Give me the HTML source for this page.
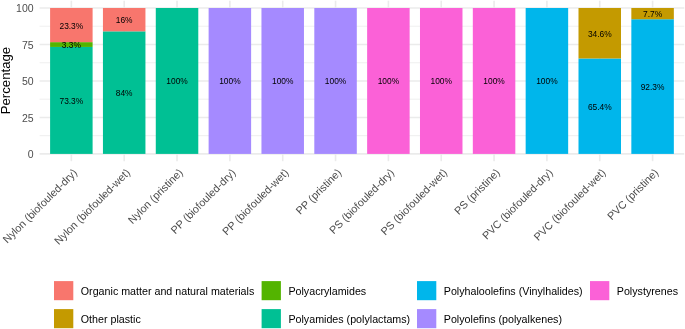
<!DOCTYPE html><html><head><meta charset="utf-8"><style>html,body{margin:0;padding:0;background:#fff;}svg{display:block;will-change:transform;}text{font-family:"Liberation Sans",sans-serif;}</style></head><body>
<svg width="685" height="329" viewBox="0 0 685 329">
<rect x="0" y="0" width="685" height="329" fill="#fff"/>
<line x1="39.6" x2="684.25" y1="135.66" y2="135.66" stroke="#EBEBEB" stroke-width="0.8"/>
<line x1="39.6" x2="684.25" y1="99.19" y2="99.19" stroke="#EBEBEB" stroke-width="0.8"/>
<line x1="39.6" x2="684.25" y1="62.71" y2="62.71" stroke="#EBEBEB" stroke-width="0.8"/>
<line x1="39.6" x2="684.25" y1="26.24" y2="26.24" stroke="#EBEBEB" stroke-width="0.8"/>
<line x1="39.6" x2="684.25" y1="153.90" y2="153.90" stroke="#EBEBEB" stroke-width="1.6"/>
<line x1="39.6" x2="684.25" y1="117.43" y2="117.43" stroke="#EBEBEB" stroke-width="1.6"/>
<line x1="39.6" x2="684.25" y1="80.95" y2="80.95" stroke="#EBEBEB" stroke-width="1.6"/>
<line x1="39.6" x2="684.25" y1="44.47" y2="44.47" stroke="#EBEBEB" stroke-width="1.6"/>
<line x1="39.6" x2="684.25" y1="8.00" y2="8.00" stroke="#EBEBEB" stroke-width="1.6"/>
<line x1="71.35" x2="71.35" y1="0.7" y2="161.2" stroke="#EBEBEB" stroke-width="1.6"/>
<line x1="124.19" x2="124.19" y1="0.7" y2="161.2" stroke="#EBEBEB" stroke-width="1.6"/>
<line x1="177.03" x2="177.03" y1="0.7" y2="161.2" stroke="#EBEBEB" stroke-width="1.6"/>
<line x1="229.87" x2="229.87" y1="0.7" y2="161.2" stroke="#EBEBEB" stroke-width="1.6"/>
<line x1="282.71" x2="282.71" y1="0.7" y2="161.2" stroke="#EBEBEB" stroke-width="1.6"/>
<line x1="335.55" x2="335.55" y1="0.7" y2="161.2" stroke="#EBEBEB" stroke-width="1.6"/>
<line x1="388.39" x2="388.39" y1="0.7" y2="161.2" stroke="#EBEBEB" stroke-width="1.6"/>
<line x1="441.23" x2="441.23" y1="0.7" y2="161.2" stroke="#EBEBEB" stroke-width="1.6"/>
<line x1="494.07" x2="494.07" y1="0.7" y2="161.2" stroke="#EBEBEB" stroke-width="1.6"/>
<line x1="546.91" x2="546.91" y1="0.7" y2="161.2" stroke="#EBEBEB" stroke-width="1.6"/>
<line x1="599.75" x2="599.75" y1="0.7" y2="161.2" stroke="#EBEBEB" stroke-width="1.6"/>
<line x1="652.59" x2="652.59" y1="0.7" y2="161.2" stroke="#EBEBEB" stroke-width="1.6"/>
<rect x="50.10" y="46.96" width="42.5" height="106.94" fill="#00C094"/>
<rect x="50.10" y="42.14" width="42.5" height="4.81" fill="#53B400"/>
<rect x="50.10" y="8.00" width="42.5" height="34.14" fill="#F8766D"/>
<text x="71.35" y="103.87" font-size="8.4" fill="#000" text-anchor="middle">73.3%</text>
<text x="71.35" y="47.99" font-size="8.4" fill="#000" text-anchor="middle">3.3%</text>
<text x="71.35" y="28.51" font-size="8.4" fill="#000" text-anchor="middle">23.3%</text>
<rect x="102.94" y="31.34" width="42.5" height="122.56" fill="#00C094"/>
<rect x="102.94" y="8.00" width="42.5" height="23.34" fill="#F8766D"/>
<text x="124.19" y="96.06" font-size="8.4" fill="#000" text-anchor="middle">84%</text>
<text x="124.19" y="23.11" font-size="8.4" fill="#000" text-anchor="middle">16%</text>
<rect x="155.78" y="8.00" width="42.5" height="145.90" fill="#00C094"/>
<text x="177.03" y="84.39" font-size="8.4" fill="#000" text-anchor="middle">100%</text>
<rect x="208.62" y="8.00" width="42.5" height="145.90" fill="#A58AFF"/>
<text x="229.87" y="84.39" font-size="8.4" fill="#000" text-anchor="middle">100%</text>
<rect x="261.46" y="8.00" width="42.5" height="145.90" fill="#A58AFF"/>
<text x="282.71" y="84.39" font-size="8.4" fill="#000" text-anchor="middle">100%</text>
<rect x="314.30" y="8.00" width="42.5" height="145.90" fill="#A58AFF"/>
<text x="335.55" y="84.39" font-size="8.4" fill="#000" text-anchor="middle">100%</text>
<rect x="367.14" y="8.00" width="42.5" height="145.90" fill="#FB61D7"/>
<text x="388.39" y="84.39" font-size="8.4" fill="#000" text-anchor="middle">100%</text>
<rect x="419.98" y="8.00" width="42.5" height="145.90" fill="#FB61D7"/>
<text x="441.23" y="84.39" font-size="8.4" fill="#000" text-anchor="middle">100%</text>
<rect x="472.82" y="8.00" width="42.5" height="145.90" fill="#FB61D7"/>
<text x="494.07" y="84.39" font-size="8.4" fill="#000" text-anchor="middle">100%</text>
<rect x="525.66" y="8.00" width="42.5" height="145.90" fill="#00B6EB"/>
<text x="546.91" y="84.39" font-size="8.4" fill="#000" text-anchor="middle">100%</text>
<rect x="578.50" y="58.48" width="42.5" height="95.42" fill="#00B6EB"/>
<rect x="578.50" y="8.00" width="42.5" height="50.48" fill="#C49A00"/>
<text x="599.75" y="109.63" font-size="8.4" fill="#000" text-anchor="middle">65.4%</text>
<text x="599.75" y="36.68" font-size="8.4" fill="#000" text-anchor="middle">34.6%</text>
<rect x="631.34" y="19.23" width="42.5" height="134.67" fill="#00B6EB"/>
<rect x="631.34" y="8.00" width="42.5" height="11.23" fill="#C49A00"/>
<text x="652.59" y="90.01" font-size="8.4" fill="#000" text-anchor="middle">92.3%</text>
<text x="652.59" y="17.06" font-size="8.4" fill="#000" text-anchor="middle">7.7%</text>
<text x="33.6" y="158.20" font-size="10.5" fill="#4D4D4D" text-anchor="end">0</text>
<text x="33.6" y="121.73" font-size="10.5" fill="#4D4D4D" text-anchor="end">25</text>
<text x="33.6" y="85.26" font-size="10.5" fill="#4D4D4D" text-anchor="end">50</text>
<text x="33.6" y="48.78" font-size="10.5" fill="#4D4D4D" text-anchor="end">75</text>
<text x="33.6" y="12.30" font-size="10.5" fill="#4D4D4D" text-anchor="end">100</text>
<text transform="translate(10.3,80.6) rotate(-90)" font-size="13.2" fill="#000" text-anchor="middle">Percentage</text>
<text transform="translate(72.20,167.65) rotate(-45)" font-size="10.75" fill="#4D4D4D" text-anchor="end" dominant-baseline="hanging">Nylon (biofouled-dry)</text>
<text transform="translate(125.04,167.65) rotate(-45)" font-size="10.75" fill="#4D4D4D" text-anchor="end" dominant-baseline="hanging">Nylon (biofouled-wet)</text>
<text transform="translate(177.88,167.65) rotate(-45)" font-size="10.75" fill="#4D4D4D" text-anchor="end" dominant-baseline="hanging">Nylon (pristine)</text>
<text transform="translate(230.72,167.65) rotate(-45)" font-size="10.75" fill="#4D4D4D" text-anchor="end" dominant-baseline="hanging">PP (biofouled-dry)</text>
<text transform="translate(283.56,167.65) rotate(-45)" font-size="10.75" fill="#4D4D4D" text-anchor="end" dominant-baseline="hanging">PP (biofouled-wet)</text>
<text transform="translate(336.40,167.65) rotate(-45)" font-size="10.75" fill="#4D4D4D" text-anchor="end" dominant-baseline="hanging">PP (pristine)</text>
<text transform="translate(389.24,167.65) rotate(-45)" font-size="10.75" fill="#4D4D4D" text-anchor="end" dominant-baseline="hanging">PS (biofouled-dry)</text>
<text transform="translate(442.08,167.65) rotate(-45)" font-size="10.75" fill="#4D4D4D" text-anchor="end" dominant-baseline="hanging">PS (biofouled-wet)</text>
<text transform="translate(494.92,167.65) rotate(-45)" font-size="10.75" fill="#4D4D4D" text-anchor="end" dominant-baseline="hanging">PS (pristine)</text>
<text transform="translate(547.76,167.65) rotate(-45)" font-size="10.75" fill="#4D4D4D" text-anchor="end" dominant-baseline="hanging">PVC (biofouled-dry)</text>
<text transform="translate(600.60,167.65) rotate(-45)" font-size="10.75" fill="#4D4D4D" text-anchor="end" dominant-baseline="hanging">PVC (biofouled-wet)</text>
<text transform="translate(653.44,167.65) rotate(-45)" font-size="10.75" fill="#4D4D4D" text-anchor="end" dominant-baseline="hanging">PVC (pristine)</text>
<rect x="54.0" y="281.1" width="19.3" height="19.1" fill="#F8766D"/>
<text x="80.80" y="294.80" font-size="10.7" fill="#000">Organic matter and natural materials</text>
<rect x="54.0" y="309.1" width="19.3" height="19.1" fill="#C49A00"/>
<text x="80.80" y="322.80" font-size="10.7" fill="#000">Other plastic</text>
<rect x="261.6" y="281.1" width="19.3" height="19.1" fill="#53B400"/>
<text x="288.40" y="294.80" font-size="10.7" fill="#000">Polyacrylamides</text>
<rect x="261.6" y="309.1" width="19.3" height="19.1" fill="#00C094"/>
<text x="288.40" y="322.80" font-size="10.7" fill="#000">Polyamides (polylactams)</text>
<rect x="417.0" y="281.1" width="19.3" height="19.1" fill="#00B6EB"/>
<text x="443.80" y="294.80" font-size="10.7" fill="#000">Polyhaloolefins (Vinylhalides)</text>
<rect x="417.0" y="309.1" width="19.3" height="19.1" fill="#A58AFF"/>
<text x="443.80" y="322.80" font-size="10.7" fill="#000">Polyolefins (polyalkenes)</text>
<rect x="590.0" y="281.1" width="19.3" height="19.1" fill="#FB61D7"/>
<text x="616.80" y="294.80" font-size="10.7" fill="#000">Polystyrenes</text>
</svg></body></html>
